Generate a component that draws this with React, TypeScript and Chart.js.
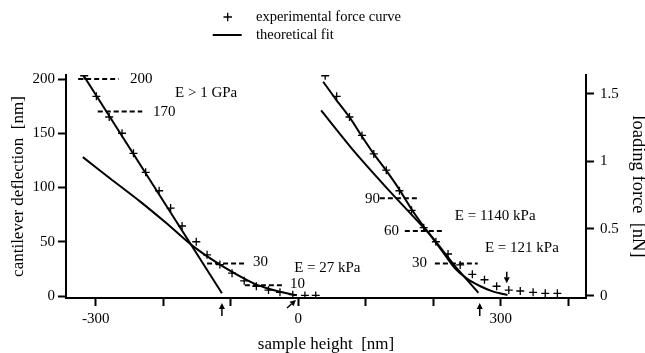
import React, { useEffect, useRef } from 'react';
import { Chart, registerables } from 'chart.js';

Chart.register(...registerables);

// ---------- data ----------
const expLeftX = [-317, -299, -280, -261, -244, -226, -206, -189, -172, -151, -135, -116, -98, -80, -62, -44, -27, -8, 10, 26];
const expLeftY = [203, 184, 165, 150, 131.5, 114, 97, 81, 64.5, 50, 38, 29, 21, 14, 9, 5.5, 3.4, 1.2, 0.5, 0.5];

const expRightX = [40, 57, 76, 94.5, 112, 130.5, 150, 168, 186, 204, 222, 240, 258, 276, 294, 312, 329, 348, 366, 384];
const expRightY = [203, 184, 165, 148, 131, 116, 97, 79, 63, 50, 38.7, 28.6, 20, 15, 9, 5.5, 4.6, 3.4, 2.5, 2.5];

// theoretical fits
const fitHardX = [-318.5, -113];
const fitHardY = [203.7, 2.5];
const fit27X = [-319, -279, -234, -195, -156, -116, -66, -37, -7, -2];
const fit27Y = [128, 108.5, 87, 67, 46, 29, 11.7, 5.5, 1.2, 0.8];
const fit121X = [37, 55, 77, 94.5, 112, 131.6, 149, 168, 186, 196, 215, 233, 250, 270, 289, 310];
const fit121Y = [197.5, 182, 164, 147, 131, 114.6, 99, 80, 64, 56, 40, 25, 16, 9, 4, 1];
const fit1140X = [34, 82, 132, 196, 233, 267];
const fit1140Y = [171, 134, 99, 56, 27, 3];

// dashed reference levels
const dashLevels = [200, 170, 30, 10, 90, 60, 30];
const dashFrom = [-326, -297, -135, -79, 121, 158, 202.5];
const dashTo = [-266, -231, -76, -20, 180, 217, 266];

// annotation texts
const noteText = ['200', '170', '30', '10', 'E > 1 GPa', 'E = 27 kPa', '90', '60', '30', 'E = 1140 kPa', 'E = 121 kPa'];
const noteX = [-249, -215, -67, -12, -182.5, -6, 99, 127, 168.5, 232, 276.7];
const noteY = [200, 170, 31, 11, 187, 26.2, 89, 59.5, 30.5, 73.7, 44];

// arrows
const upArrowX = [-113, 269];
const diagArrowTailX = -16.6;
const diagArrowHeadX = -3.3;
const downArrowX = 309;
const downArrowFromY = 22.4;
const downArrowToY = 11.7;

// ticks
const xTickValues = [-300, -200, -100, 0, 100, 200, 300, 400];
const xTickLabels = ['-300', '', '', '0', '', '', '300', ''];
const yTickValues = [0, 50, 100, 150, 200];
const y2TickValues = [0, 0.5, 1, 1.5];
const y2TickLabels = ['0', '0.5', '1', '1.5'];

const legendLabels = ['experimental force curve', 'theoretical fit'];

const FONT = '"Liberation Serif", "Times New Roman", serif';

const pts = (xs: number[], ys: number[]) => xs.map((x, i) => ({ x, y: ys[i] }));

function drawArrow(ctx: CanvasRenderingContext2D, x1: number, y1: number, x2: number, y2: number) {
  const ang = Math.atan2(y2 - y1, x2 - x1);
  const hl = 6, hw = 3;
  const bx = x2 - Math.cos(ang) * hl;
  const by = y2 - Math.sin(ang) * hl;
  ctx.beginPath();
  ctx.moveTo(x1, y1);
  ctx.lineTo(bx, by);
  ctx.lineWidth = 1.5;
  ctx.strokeStyle = '#000';
  ctx.stroke();
  ctx.beginPath();
  ctx.moveTo(x2, y2);
  ctx.lineTo(bx + Math.sin(ang) * hw, by - Math.cos(ang) * hw);
  ctx.lineTo(bx - Math.sin(ang) * hw, by + Math.cos(ang) * hw);
  ctx.closePath();
  ctx.fillStyle = '#000';
  ctx.fill();
}

const overlayPlugin = {
  id: 'overlay',
  afterDatasetsDraw(chart: any) {
    const ctx: CanvasRenderingContext2D = chart.ctx;
    const xs = chart.scales.x;
    const ys = chart.scales.y;
    const base = chart.chartArea.bottom;
    ctx.save();
    ctx.fillStyle = '#000';
    ctx.font = `15px ${FONT}`;
    ctx.textBaseline = 'middle';
    ctx.textAlign = 'left';
    noteText.forEach((t, i) => {
      ctx.fillText(t, xs.getPixelForValue(noteX[i]), ys.getPixelForValue(noteY[i]));
    });
    // arrows under the axis
    upArrowX.forEach((v) => {
      const px = xs.getPixelForValue(v);
      drawArrow(ctx, px, base + 18, px, base + 5);
    });
    drawArrow(ctx, xs.getPixelForValue(diagArrowTailX), base + 10, xs.getPixelForValue(diagArrowHeadX), base + 2);
    const dx = xs.getPixelForValue(downArrowX);
    drawArrow(ctx, dx, ys.getPixelForValue(downArrowFromY), dx, ys.getPixelForValue(downArrowToY));

    // legend
    ctx.font = `14.5px ${FONT}`;
    ctx.fillStyle = '#000';
    ctx.textAlign = 'left';
    ctx.textBaseline = 'middle';
    ctx.strokeStyle = '#000';
    ctx.lineWidth = 1.3;
    ctx.beginPath();
    ctx.moveTo(223.5, 17); ctx.lineTo(232, 17);
    ctx.moveTo(227.7, 12.7); ctx.lineTo(227.7, 21.3);
    ctx.stroke();
    ctx.lineWidth = 2;
    ctx.beginPath();
    ctx.moveTo(212.7, 35); ctx.lineTo(241.7, 35);
    ctx.stroke();
    ctx.fillText(legendLabels[0], 256, 17);
    ctx.fillText(legendLabels[1], 256, 35);
    ctx.restore();
  },
};

export default function App() {
  const ref = useRef<HTMLCanvasElement | null>(null);

  useEffect(() => {
    if (!ref.current) return;
    const lineDs = (xs: number[], ys: number[], tension = 0) => ({
      type: 'scatter',
      data: pts(xs, ys),
      showLine: true,
      borderColor: '#000',
      borderWidth: 2,
      pointRadius: 0,
      tension,
      yAxisID: 'y',
    });
    const dashDs = dashLevels.map((lvl, i) => ({
      type: 'scatter',
      data: [{ x: dashFrom[i], y: lvl }, { x: dashTo[i], y: lvl }],
      showLine: true,
      borderColor: '#000',
      borderWidth: 2,
      borderDash: [5, 3],
      pointRadius: 0,
      yAxisID: 'y',
    }));
    const expDs = (xs: number[], ys: number[]) => ({
      type: 'scatter',
      data: pts(xs, ys),
      showLine: false,
      pointStyle: 'cross',
      pointRadius: 4,
      pointBorderWidth: 1.3,
      pointBorderColor: '#000',
      pointBackgroundColor: '#000',
      yAxisID: 'y',
    });

    const tickFont = { family: FONT, size: 15 };
    const gridCfg = {
      drawOnChartArea: false,
      drawTicks: true,
      tickLength: 8,
      tickWidth: 2,
      tickColor: '#000',
    };
    const borderCfg = { display: true, color: '#000', width: 2 };

    const chart = new Chart(ref.current, {
      type: 'scatter',
      data: {
        datasets: [
          expDs(expLeftX, expLeftY),
          expDs(expRightX, expRightY),
          lineDs(fitHardX, fitHardY),
          lineDs(fit27X, fit27Y, 0.3),
          lineDs(fit121X, fit121Y, 0.3),
          lineDs(fit1140X, fit1140Y, 0.2),
          ...dashDs,
        ] as any,
      },
      options: {
        animation: false,
        responsive: false,
        layout: { padding: { top: 75, left: 0, right: 0, bottom: 0 } },
        plugins: { legend: { display: false }, tooltip: { enabled: false } },
        scales: {
          x: {
            type: 'linear',
            min: -344,
            max: 426.4,
            afterBuildTicks: (s: any) => { s.ticks = xTickValues.map((v) => ({ value: v })); },
            afterFit: (s: any) => { s.height = 55; },
            ticks: {
              callback: (_v: any, i: number) => xTickLabels[i] ?? '',
              font: tickFont,
              color: '#000',
              padding: 4,
              maxRotation: 0,
              autoSkip: false,
            },
            grid: gridCfg,
            border: borderCfg,
            title: { display: true, text: 'sample height  [nm]', font: { family: FONT, size: 17, lineHeight: 1 }, color: '#000', padding: { top: 0, bottom: 0 } },
          },
          y: {
            type: 'linear',
            position: 'left',
            min: -1.84,
            max: 203.7,
            afterBuildTicks: (s: any) => { s.ticks = yTickValues.map((v) => ({ value: v })); },
            afterFit: (s: any) => { s.width = 66; },
            ticks: { callback: (v: any) => String(v), font: tickFont, color: '#000', padding: 3, autoSkip: false },
            grid: gridCfg,
            border: borderCfg,
            title: { display: true, text: 'cantilever deflection  [nm]', font: { family: FONT, size: 17, lineHeight: 1.2 }, color: '#000', padding: { top: 8, bottom: 0 } },
          },
          y2: {
            type: 'linear',
            position: 'right',
            min: -0.0149,
            max: 1.641,
            afterBuildTicks: (s: any) => { s.ticks = y2TickValues.map((v) => ({ value: v })); },
            afterFit: (s: any) => { s.width = 59; },
            ticks: { callback: (_v: any, i: number) => y2TickLabels[i] ?? '', font: tickFont, color: '#000', padding: 6, autoSkip: false },
            grid: gridCfg,
            border: borderCfg,
            title: { display: true, text: 'loading force  [nN]', font: { family: FONT, size: 18.5, lineHeight: 0.8 }, color: '#000', padding: { top: 0, bottom: 0 } },
          },
        },
      } as any,
      plugins: [overlayPlugin],
    });
    return () => chart.destroy();
  }, []);

  return (
    <div style={{ position: 'fixed', left: 0, top: 0, width: 645, height: 353, background: '#fff' }}>
      <canvas ref={ref} width={645} height={353} style={{ display: 'block' }} />
    </div>
  );
}
